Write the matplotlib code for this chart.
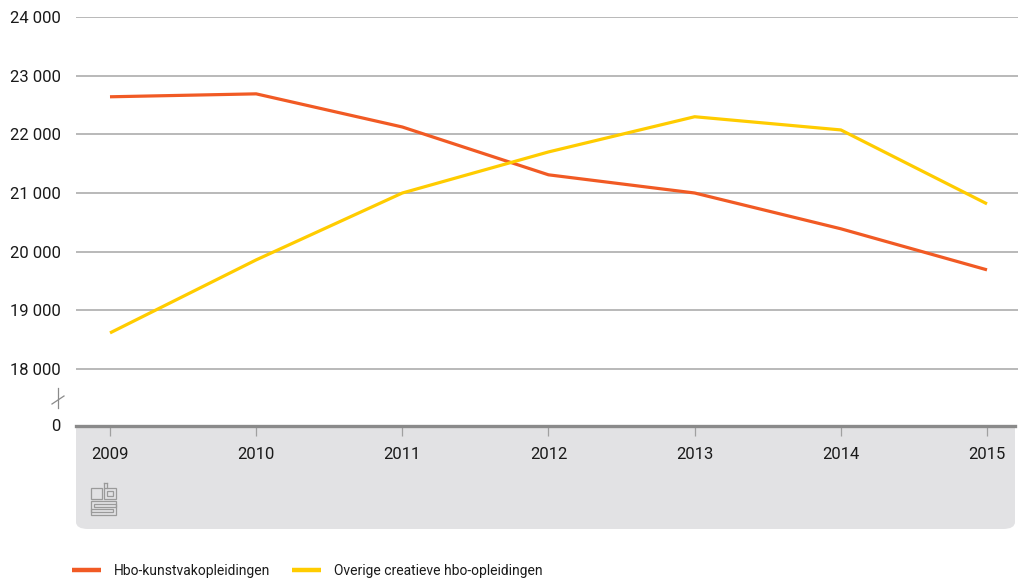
import matplotlib
matplotlib.use("Agg")
import matplotlib.pyplot as plt
from matplotlib.patches import FancyBboxPatch, Rectangle
from matplotlib.lines import Line2D

years = [2009, 2010, 2011, 2012, 2013, 2014, 2015]
kunstvak = [22640, 22690, 22125, 21310, 21000, 20390, 19690]
overige = [18615, 19860, 21000, 21700, 22300, 22075, 20815]
labels = ["Hbo-kunstvakopleidingen", "Overige creatieve hbo-opleidingen"]
yticks = [18000, 19000, 20000, 21000, 22000, 23000, 24000]

ORANGE = "#f15a24"
YELLOW = "#ffcc00"
GRID = "#a6a6a6"
W, H = 1018, 581

plt.rcParams["font.family"] = ["Roboto", "DejaVu Sans"]

fig = plt.figure(figsize=(W / 100, H / 100), dpi=100)


def fx(x):
    return x / W


def fy(y):
    return 1 - y / H


# broken axis: bottom of the axes stands for 0
ybot = 18000 - 56 / 58.67 * 1000

# grey panel under the x axis
panel = FancyBboxPatch((fx(76), fy(529)), fx(1015) - fx(76), fy(410) - fy(529),
                       boxstyle="round,pad=0,rounding_size=0.012",
                       transform=fig.transFigure, facecolor="#e2e2e4",
                       edgecolor="none", zorder=0)
fig.patches.append(panel)

ax = fig.add_axes([fx(76), fy(425), fx(1018) - fx(76), fy(17) - fy(425)])
ax.set_facecolor("none")
ax.set_zorder(1)
# white backdrop above the axis only
fig.patches.append(Rectangle((fx(76), fy(425)), fx(1018) - fx(76), fy(17) - fy(425) + 0.01,
                             transform=fig.transFigure, facecolor="white",
                             edgecolor="none", zorder=0.5))

ax.plot(years, kunstvak, color=ORANGE, lw=2.3, solid_capstyle="butt", zorder=3)
ax.plot(years, overige, color=YELLOW, lw=2.3, solid_capstyle="butt", zorder=3)

ax.set_ylim(ybot, 24000)
ax.set_xlim(2009 - 34 / 146.2, 2015 + 31 / 146.2)
ax.set_yticks([ybot] + yticks)
ax.set_yticklabels(["0"] + [f"{v:,}".replace(",", " ") for v in yticks])
ax.set_xticks(years)
ax.set_xticklabels([str(y) for y in years])

for v in yticks:
    ax.axhline(v, color=GRID, lw=1.1, zorder=1)

for s in ["top", "left", "right"]:
    ax.spines[s].set_visible(False)
ax.spines["bottom"].set_visible(False)
# thick axis line, stops at the panel edge
fig.add_artist(Line2D([fx(76), fx(1015)], [fy(425.5), fy(425.5)], color="#8a8a8a",
                      lw=2.4, transform=fig.transFigure, zorder=2))
ax.tick_params(axis="y", length=0, pad=11, labelsize=12, labelcolor="#1a1a1a")
ax.tick_params(axis="x", length=8, width=0.9, color="#a0a0a0", pad=8,
               labelsize=12, labelcolor="#1a1a1a")

# axis break symbol
fig.add_artist(Line2D([fx(58), fx(58)], [fy(388), fy(408)], color="#8a8a8a",
                      lw=0.9, transform=fig.transFigure))
fig.add_artist(Line2D([fx(52), fx(64)], [fy(404), fy(396)], color="#8a8a8a",
                      lw=0.9, transform=fig.transFigure))

# simplified logo
lc = "#9a9a9a"
for (x0, y0, w, h) in [(91, 488, 11, 11), (104, 488, 12, 11), (107, 491, 6, 5),
                       (91, 501, 25, 14), (94, 504, 22, 3), (91, 509, 22, 3)]:
    fig.patches.append(Rectangle((fx(x0), fy(y0 + h)), fx(w), h / H,
                                 transform=fig.transFigure, fill=False,
                                 edgecolor=lc, lw=0.9, zorder=2))
fig.add_artist(Line2D([fx(104), fx(104)], [fy(483), fy(488)], color=lc,
                      lw=0.9, transform=fig.transFigure))
fig.add_artist(Line2D([fx(107), fx(107)], [fy(483), fy(488)], color=lc,
                      lw=0.9, transform=fig.transFigure))
fig.add_artist(Line2D([fx(104), fx(107)], [fy(483), fy(483)], color=lc,
                      lw=0.9, transform=fig.transFigure))

handles = [Line2D([], [], color=ORANGE, lw=3.2, solid_capstyle="butt"),
           Line2D([], [], color=YELLOW, lw=3.2, solid_capstyle="butt")]
fig.legend(handles, labels, loc="center left", bbox_to_anchor=(fx(72), fy(571)),
           ncol=2, frameon=False, fontsize=10, handlelength=2.1,
           handletextpad=0.9, columnspacing=1.6, borderpad=0, borderaxespad=0,
           labelcolor="#1a1a1a")

fig.savefig("out.png", dpi=100)
